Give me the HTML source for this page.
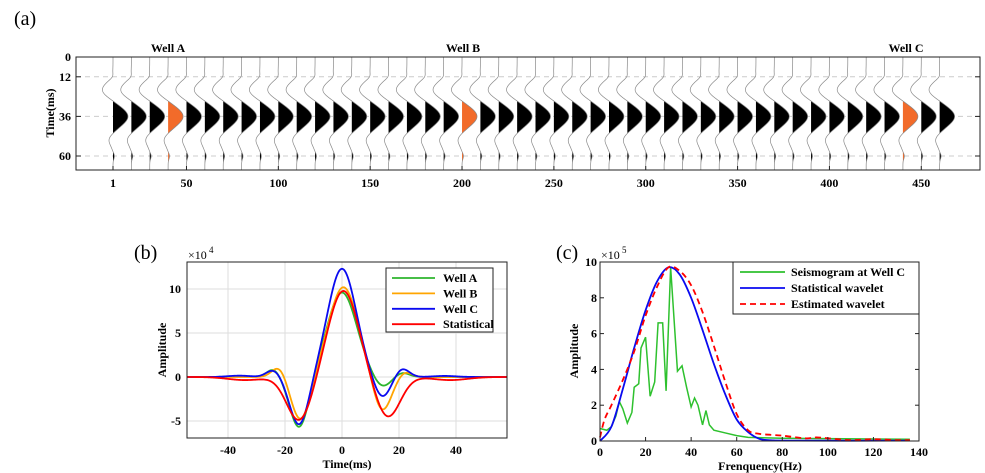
<!DOCTYPE html>
<html><head><meta charset="utf-8"><style>
html,body{margin:0;padding:0;background:#fff;}
svg{display:block;}
text{font-family:"Liberation Serif","DejaVu Serif","Times New Roman",serif;}
.t{font-weight:bold;font-size:12px;}
</style></head><body>
<svg id="s" width="985" height="473" viewBox="0 0 985 473" xmlns="http://www.w3.org/2000/svg">
<text x="14" y="25" font-size="20">(a)</text>
<text x="134" y="259" font-size="20">(b)</text>
<text x="556" y="259" font-size="20">(c)</text>
<g id="a"></g><g id="b"></g><g id="c"></g>
</svg>
<script>
const NS="http://www.w3.org/2000/svg";
function el(p,tag,at,txt){const e=document.createElementNS(NS,tag);for(const k in at)e.setAttribute(k,at[k]);if(txt!==undefined)e.textContent=txt;p.appendChild(e);return e;}
const G=(x,m,s)=>Math.exp(-((x-m)*(x-m))/(2*s*s));
(function(){
const g=document.getElementById('a');
const L=76,R=980,T=57,B=170,ys=t=>T+t*1.65;
[12,36,60].forEach(t=>el(g,'line',{x1:L,x2:R,y1:ys(t),y2:ys(t),stroke:'#ccc','stroke-dasharray':'5,4','stroke-width':1}));
const w=tau=>G(tau,0,5.5)-0.72*G(tau,-16,4.5)-0.3*G(tau,14,3.5)+0.1*G(tau,-24,1.8)+0.1*G(tau,24,1.8);
const orange=[3,19,43];
for(let k=0;k<46;k++){
 const x0=113+18.37*k;
 let d='',f='M'+x0+','+T;
 for(let t=0;t<=68.5;t+=0.25){const v=15*w(t-36);const X=x0+v,Y=ys(t);d+=(t==0?'M':'L')+X.toFixed(2)+','+Y.toFixed(2);f+='L'+(x0+Math.max(0,v)).toFixed(2)+','+Y.toFixed(2);}
 f+='L'+x0+','+B+'Z';
 const col=orange.includes(k)?'#f26b2a':'#000';
 el(g,'path',{d:f,fill:col});
 el(g,'path',{d:d,fill:'none',stroke:'#888','stroke-width':0.7});
}
el(g,'rect',{x:L,y:T,width:R-L,height:B-T,fill:'none',stroke:'#222','stroke-width':1});
[[0,'0'],[12,'12'],[36,'36'],[60,'60']].forEach(([t,s])=>{el(g,'line',{x1:L,x2:L+5,y1:ys(t),y2:ys(t),stroke:'#222'});el(g,'line',{x1:R,x2:R-5,y1:ys(t),y2:ys(t),stroke:'#222'});el(g,'text',{x:L-5,y:ys(t)+4,'text-anchor':'end',class:'t'},s);});
[['1',0],['50',4],['100',9],['150',14],['200',19],['250',24],['300',29],['350',34],['400',39],['450',44]].forEach(([s,k])=>{const x=113+18.37*k;el(g,'text',{x:x,y:187,'text-anchor':'middle',class:'t'},s);el(g,'line',{x1:x,x2:x,y1:B,y2:B-4,stroke:'#222'});});
el(g,'text',{x:0,y:0,transform:'translate(54,113) rotate(-90)','text-anchor':'middle',class:'t'},'Time(ms)');
[['Well A',168],['Well B',463],['Well C',906]].forEach(([s,x])=>el(g,'text',{x:x,y:52,'text-anchor':'middle',class:'t'},s));
})();
function smooth(pts){let d='M'+pts[0][0].toFixed(2)+','+pts[0][1].toFixed(2);
 for(let i=0;i<pts.length-1;i++){const p0=pts[Math.max(0,i-1)],p1=pts[i],p2=pts[i+1],p3=pts[Math.min(pts.length-1,i+2)];
 const c1=[p1[0]+(p2[0]-p0[0])/6,p1[1]+(p2[1]-p0[1])/6],c2=[p2[0]-(p3[0]-p1[0])/6,p2[1]-(p3[1]-p1[1])/6];
 d+='C'+c1.map(v=>v.toFixed(2))+' '+c2.map(v=>v.toFixed(2))+' '+p2.map(v=>v.toFixed(2));}return d;}
(function(){
const g=document.getElementById('b');
const L=187,R=507,T=262,B=438;
const xs=t=>342+t*2.85, ys=v=>377-v*8.8;
[-40,-20,0,20,40].forEach(t=>el(g,'line',{x1:xs(t),x2:xs(t),y1:T,y2:B,stroke:'#ddd'}));
[-5,0,5,10].forEach(v=>el(g,'line',{x1:L,x2:R,y1:ys(v),y2:ys(v),stroke:'#ddd'}));
const defs={
 A:[['#2db52d'],[0,9.6,5.2],[-15,-5.8,3.3],[-24,0.9,2.3],[14,-1.2,3.0],[21,0.5,2.5],[-36,0.1,4]],
 B:[['#ffa500'],[0.5,10.2,5.2],[-14.5,-4.9,3.3],[-22,1.2,2.5],[14,-4.0,3.2],[22,0.6,2.3]],
 C:[['#0a0af0'],[0,12.3,5.0],[-15,-5.5,3.3],[-24,0.8,2.5],[14,-2.4,3.0],[21,1.0,2.5],[-36,0.15,4],[36,0.12,4]],
 S:[['#f00'],[0.5,9.8,5.3],[-15,-5.0,4.4],[16,-4.6,4.4],[-34,-0.35,6],[38,-0.35,6]]
};
['A','B','C','S'].forEach(k=>{const dd=defs[k];let d='';
 for(let t=-54.4;t<=57.9;t+=0.3){let v=0;for(let i=1;i<dd.length;i++)v+=dd[i][1]*G(t,dd[i][0],dd[i][2]);d+=(d?'L':'M')+xs(t).toFixed(2)+','+ys(v).toFixed(2);}
 el(g,'path',{d:d,fill:'none',stroke:dd[0][0],'stroke-width':1.8});});
el(g,'rect',{x:L,y:T,width:R-L,height:B-T,fill:'none',stroke:'#222'});
[-40,-20,0,20,40].forEach(t=>el(g,'text',{x:xs(t),y:454,'text-anchor':'middle',class:'t'},String(t)));
[-5,0,5,10].forEach(v=>el(g,'text',{x:L-6,y:ys(v)+4,'text-anchor':'end',class:'t'},String(v)));
el(g,'text',{x:188,y:259,'font-size':'12'},'×10');el(g,'text',{x:209,y:253,'font-size':'9'},'4');
el(g,'text',{x:0,y:0,transform:'translate(166,350) rotate(-90)','text-anchor':'middle',class:'t'},'Amplitude');
el(g,'text',{x:347,y:468,'text-anchor':'middle',class:'t'},'Time(ms)');
el(g,'rect',{x:386,y:268,width:107,height:64,fill:'#fff',stroke:'#222'});
[['Well A','#2db52d'],['Well B','#ffa500'],['Well C','#0a0af0'],['Statistical','#f00']].forEach(([s,c],i)=>{const y=278+15.4*i;el(g,'line',{x1:392,x2:435,y1:y,y2:y,stroke:c,'stroke-width':1.8});el(g,'text',{x:443,y:y+4,class:'t'},s);});
})();
(function(){
const g=document.getElementById('c');
const L=600,R=919,T=262,B=441;
const xs=f=>600+f*(319/140), ys=v=>441-v*17.9;
const P=a=>a.map(p=>[xs(p[0]),ys(p[1])]);
const green=[[0,0.7],[3,0.6],[5,0.8],[7,1.4],[8.5,2.2],[10,1.8],[12,1.0],[14,1.6],[15,3.0],[17,3.2],[18,5.2],[20,5.8],[22,2.5],[24,3.3],[25.5,6.6],[27.5,6.6],[29,2.8],[31,9.7],[34,3.9],[36,4.2],[38,3],[40,1.9],[41.5,2.4],[43,2],[45,0.9],[46.5,1.7],[48,0.9],[50,0.6],[55,0.45],[60,0.3],[65,0.2],[80,0.15],[136,0.1]];
let d='';P(green).forEach((p,i)=>d+=(i?'L':'M')+p[0].toFixed(2)+','+p[1].toFixed(2));
el(g,'path',{d:d,fill:'none',stroke:'#2ec12e','stroke-width':1.5});
const blue=[[0,0],[5,0.8],[10,2.9],[15,5.2],[20,7.3],[25,8.9],[30,9.7],[35,9.3],[40,8.0],[45,6.2],[50,4.3],[55,2.6],[60,1.2],[65,0.5],[70,0.12],[75,0.04],[85,0.02],[136,0.02]];
el(g,'path',{d:smooth(P(blue)),fill:'none',stroke:'#0a0af0','stroke-width':1.8});
const red=[[0,0.2],[2,1.2],[5,2],[10,3.4],[15,5],[20,7],[25,8.6],[30,9.7],[35,9.5],[40,8.7],[45,7.2],[50,5.3],[55,3.3],[60,1.5],[65,0.6],[70,0.4],[80,0.3],[90,0.15],[95,0.2],[100,0.15],[110,0.05],[120,0.1],[130,0.05],[136,0.05]];
el(g,'path',{d:smooth(P(red)),fill:'none',stroke:'#f00','stroke-width':1.8,'stroke-dasharray':'6,4'});
el(g,'rect',{x:L,y:T,width:R-L,height:B-T,fill:'none',stroke:'#222'});
[0,20,40,60,80,100,120,140].forEach(f=>{el(g,'text',{x:xs(f),y:456,'text-anchor':'middle',class:'t'},String(f));el(g,'line',{x1:xs(f),x2:xs(f),y1:B,y2:B-4,stroke:'#222'});});
[0,2,4,6,8,10].forEach(v=>{el(g,'text',{x:L-3,y:ys(v)+4,'text-anchor':'end',class:'t'},String(v));el(g,'line',{x1:L,x2:L+4,y1:ys(v),y2:ys(v),stroke:'#222'});el(g,'line',{x1:R,x2:R-4,y1:ys(v),y2:ys(v),stroke:'#222'});});
el(g,'text',{x:601,y:259,'font-size':'12'},'×10');el(g,'text',{x:622,y:253,'font-size':'9'},'5');
el(g,'text',{x:0,y:0,transform:'translate(578,351) rotate(-90)','text-anchor':'middle',class:'t'},'Amplitude');
el(g,'text',{x:760,y:470,'text-anchor':'middle',class:'t'},'Frenquency(Hz)');
el(g,'rect',{x:733,y:262,width:186,height:52,fill:'#fff',stroke:'#222'});
[['Seismogram at Well C','#2ec12e',''],['Statistical wavelet','#0a0af0',''],['Estimated wavelet','#f00','6,4']].forEach(([s,c,da],i)=>{const y=272+16*i;const a={x1:740,x2:785,y1:y,y2:y,stroke:c,'stroke-width':1.8};if(da)a['stroke-dasharray']=da;el(g,'line',a);el(g,'text',{x:791,y:y+4,class:'t'},s);});
})();
</script>
</body></html>
